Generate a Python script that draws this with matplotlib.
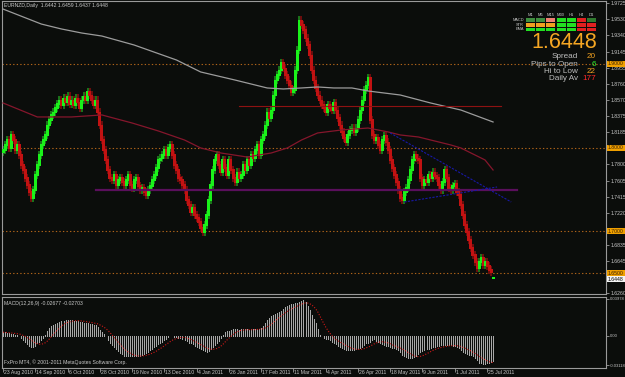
import numpy as np
import pandas as pd
import matplotlib
matplotlib.use("Agg")
import matplotlib.pyplot as plt
from matplotlib.patches import Rectangle

plt.rcParams['font.family'] = ['Liberation Sans', 'DejaVu Sans']

# EURNZD daily closes, 23 Aug 2010 .. end of Jul 2011
close = [
    1.7971, 1.8031, 1.8090, 1.7995, 1.8150, 1.8090, 1.7971, 1.8031, 1.7911, 1.7792,
    1.7732, 1.7637, 1.7553, 1.7470, 1.7398, 1.7494, 1.7673, 1.7792, 1.7911, 1.8031,
    1.8090, 1.8150, 1.8269, 1.8329, 1.8389, 1.8424, 1.8472, 1.8520, 1.8567, 1.8508,
    1.8591, 1.8543, 1.8615, 1.8520, 1.8567, 1.8508, 1.8591, 1.8543, 1.8472, 1.8567,
    1.8615, 1.8567, 1.8663, 1.8627, 1.8567, 1.8508, 1.8567, 1.8424, 1.8269, 1.8090,
    1.7971, 1.7852, 1.7732, 1.7637, 1.7613, 1.7673, 1.7553, 1.7613, 1.7637, 1.7589,
    1.7553, 1.7613, 1.7673, 1.7553, 1.7518, 1.7613, 1.7637, 1.7541, 1.7494, 1.7518,
    1.7470, 1.7434, 1.7494, 1.7541, 1.7613, 1.7673, 1.7756, 1.7852, 1.7875, 1.7911,
    1.7971, 1.7911, 1.7995, 1.8031, 1.7911, 1.7792, 1.7732, 1.7637, 1.7613, 1.7553,
    1.7494, 1.7374, 1.7315, 1.7231, 1.7279, 1.7195, 1.7160, 1.7112, 1.7040, 1.6993,
    1.7076, 1.7195, 1.7374, 1.7553, 1.7732, 1.7852, 1.7911, 1.7792, 1.7708, 1.7852,
    1.7756, 1.7673, 1.7852, 1.7732, 1.7637, 1.7589, 1.7708, 1.7637, 1.7673, 1.7792,
    1.7732, 1.7852, 1.7792, 1.7911, 1.7875, 1.7971, 1.8031, 1.7911, 1.8090, 1.8150,
    1.8269, 1.8424, 1.8353, 1.8448, 1.8627, 1.8806, 1.8866, 1.8925, 1.9009, 1.8949,
    1.8866, 1.8806, 1.8746, 1.8663, 1.8687, 1.8925, 1.9164, 1.9522, 1.9463, 1.9403,
    1.9307, 1.9224, 1.9104, 1.8925, 1.8806, 1.8711, 1.8627, 1.8567, 1.8508, 1.8472,
    1.8424, 1.8508, 1.8472, 1.8448, 1.8532, 1.8448, 1.8353, 1.8269, 1.8186, 1.8114,
    1.8066, 1.8150, 1.8210, 1.8233, 1.8186, 1.8233, 1.8329, 1.8448, 1.8567, 1.8687,
    1.8746, 1.8830, 1.8329, 1.8150, 1.8090, 1.8114, 1.8031, 1.7971, 1.8090, 1.8138,
    1.8066, 1.7971, 1.7852, 1.7756, 1.7673, 1.7589, 1.7494, 1.7398, 1.7374, 1.7470,
    1.7518, 1.7613, 1.7732, 1.7852, 1.7911, 1.7875, 1.7852, 1.7637, 1.7553, 1.7613,
    1.7589, 1.7673, 1.7637, 1.7708, 1.7661, 1.7637, 1.7553, 1.7494, 1.7589, 1.7732,
    1.7637, 1.7518, 1.7494, 1.7541, 1.7565, 1.7470, 1.7434, 1.7315, 1.7195, 1.7076,
    1.6993, 1.6897, 1.6801, 1.6718, 1.6634, 1.6563, 1.6634, 1.6682, 1.6599, 1.6634,
    1.6587, 1.6539, 1.6515, 1.6448,
]
first_open = 1.7950
last_ohlc = (1.6442, 1.6459, 1.6437, 1.6448)

# MACD(12,26,9) main line per bar
macd_main = [
    .004, .004, .003, .003, .002, .002, .001, .001, .000, -.002,
    -.004, -.006, -.009, -.011, -.012, -.012, -.011, -.008, -.006, -.004,
    -.002, .001, .005, .009, .011, .012, .013, .014, .015, .016,
    .016, .017, .017, .017, .017, .016, .016, .016, .015, .015,
    .014, .014, .014, .013, .013, .012, .012, .010, .006, .004,
    .002, .000, -.004, -.008, -.010, -.012, -.014, -.016, -.018, -.019,
    -.021, -.022, -.022, -.022, -.022, -.022, -.022, -.021, -.021, -.020,
    -.019, -.018, -.017, -.015, -.014, -.012, -.011, -.009, -.007, -.006,
    -.004, -.003, -.001, .000, .000, -.001, -.001, -.002, -.002, -.003,
    -.004, -.005, -.007, -.008, -.009, -.011, -.012, -.013, -.014, -.015,
    -.016, -.017, -.016, -.014, -.012, -.010, -.007, -.005, -.002, .001,
    .004, .005, .005, .006, .007, .007, .007, .006, .007, .007,
    .007, .007, .006, .007, .007, .007, .008, .008, .009, .011,
    .014, .017, .019, .021, .023, .024, .025, .026, .027, .029,
    .031, .032, .033, .034, .034, .035, .035, .036, .038, .039,
    .036, .032, .028, .023, .018, .014, .008, .001, .000, -.002,
    -.003, -.003, -.004, -.006, -.008, -.009, -.011, -.012, -.013, -.014,
    -.015, -.015, -.015, -.015, -.015, -.014, -.014, -.013, -.012, -.010,
    -.008, -.007, -.006, -.004, -.003, -.005, -.006, -.008, -.009, -.010,
    -.011, -.011, -.012, -.013, -.013, -.014, -.015, -.017, -.020, -.022,
    -.023, -.024, -.024, -.024, -.023, -.021, -.019, -.017, -.016, -.015,
    -.014, -.014, -.013, -.012, -.012, -.011, -.011, -.010, -.010, -.010,
    -.010, -.010, -.010, -.011, -.011, -.012, -.013, -.015, -.017, -.018,
    -.019, -.020, -.020, -.022, -.024, -.026, -.029, -.029, -.030, -.030,
    -.029, -.029, -.028, -.027,
]
macd_header = (-0.02677, -0.02703)

# moving averages (bar index, value)
slow_ma_bar = [0, 19, 29, 39, 49, 65, 86, 98, 115, 131, 139, 148, 156, 164, 173, 181, 197, 212, 227, 243]
slow_ma = [1.9653, 1.9474, 1.9415, 1.9367, 1.9331, 1.9224, 1.9045, 1.8902, 1.8806, 1.8711,
           1.8699, 1.8711, 1.8723, 1.8711, 1.8711, 1.8675, 1.8627, 1.8532, 1.8448, 1.8305]
mid_ma_bar = [0, 17, 34, 49, 64, 77, 90, 98, 108, 121, 133, 141, 148, 156, 168, 181, 191, 197, 206, 222, 227, 239, 243]
mid_ma = [1.8532, 1.8365, 1.8365, 1.8389, 1.8293, 1.8198, 1.8090, 1.7995, 1.7935, 1.7887, 1.7935, 1.7995,
          1.8090, 1.8174, 1.8210, 1.8233, 1.8186, 1.8150, 1.8126, 1.8031, 1.7995, 1.7852, 1.7732]

round_levels = [1.90, 1.80, 1.70, 1.65]
support_bars, support_level = (46, 255), 1.7494
resist_bars, resist_level = (117, 247), 1.8496
trend_down_bars, trend_down = (192, 252), (1.8174, 1.7350)
trend_up_bars, trend_up = (199, 245), (1.7350, 1.7529)

date_labels = ['23 Aug 2010', '14 Sep 2010', '6 Oct 2010', '28 Oct 2010', '19 Nov 2010',
               '13 Dec 2010', '4 Jan 2011', '26 Jan 2011', '17 Feb 2011', '11 Mar 2011',
               '4 Apr 2011', '26 Apr 2011', '18 May 2011', '9 Jun 2011', '1 Jul 2011', '25 Jul 2011']
# ticks hidden behind the highlighted level boxes are left out
price_ticks = [1.9725, 1.9530, 1.9340, 1.9145, 1.8955, 1.8760, 1.8570, 1.8375, 1.8185,
               1.7800, 1.7605, 1.7415, 1.7220, 1.6835, 1.6645, 1.6260]
macd_ticks = [0.03978, 0.0, -0.03118]
macd_tick_labels = ['0.03978', '0.00', '-0.03118']

tf_names = ['M1', 'M5', 'M15', 'M30', 'H1', 'H4', 'D1']
signal_rows = ['MACD', 'STR', 'EMA']
signal_cells = [['#3f8f3f', '#3f8f3f', '#f08070', '#22e022', '#22e022', '#e02020', '#2f7a2f'],
                ['#f0a020', '#f0a020', '#f0a020', '#22e022', '#22e022', '#e02020', '#e02020'],
                ['#22e022', '#22e022', '#22e022', '#22e022', '#22e022', '#e02020', '#e02020']]
stat_names = ['Spread', 'Pips to Open', 'Hi to Low', 'Daily Av']
stat_values = ['20', '6', '22', '177']
stat_colors = ['#f0a020', '#30f030', '#f0a020', '#ff2a2a']

# ---------------------------------------------------------------
W, H = 625, 377
BG = '#0b0d0b'
AXC = '#9a9a9a'
TXT = '#c8c8c8'
fig = plt.figure(figsize=(W / 100, H / 100), dpi=100, facecolor=BG)


def px_axes(l, t, r, b):
    a = fig.add_axes([l / W, 1 - b / H, (r - l) / W, (b - t) / H])
    a.set_facecolor(BG)
    for s in a.spines.values():
        s.set_color(AXC)
        s.set_linewidth(0.8)
    return a


def ftext(x, y, s, **kw):
    kw.setdefault('va', 'center')
    fig.text(x / W, 1 - y / H, s, **kw)


def frect(x, y, w, h, color):
    fig.add_artist(Rectangle((x / W, 1 - (y + h) / H), w / W, h / H,
                             transform=fig.transFigure, facecolor=color, edgecolor='none'))


ax = px_axes(2, 1, 606, 294)
ax2 = px_axes(2, 297, 606, 368)
n = len(close)
idx = np.arange(n)
xlim = (-0.5, 299)

# candles: 2px dark shadow over the full range, 1px bright body on top
c = np.array(close)
o = np.r_[first_open, c[:-1]]
o[-1] = last_ohlc[0]
wick = 0.0045
hi = np.maximum(o, c) + wick
lo = np.minimum(o, c) - wick
hi[-1], lo[-1] = last_ohlc[1], last_ohlc[2]
up = c >= o
wick_col = [(0.10, 0.45, 0.10) if u else (0.42, 0.05, 0.05) for u in up]
body_col = [(0.10, 0.95, 0.10) if u else (0.76, 0.07, 0.07) for u in up]
ax.vlines(idx, lo, hi, colors=wick_col, lw=1.44, antialiased=False, zorder=2)
ax.vlines(idx - 0.2, np.minimum(o, c), np.maximum(o, c) + 0.0006,
          colors=body_col, lw=0.75, antialiased=False, zorder=3)

for lvl in round_levels:
    ax.axhline(lvl, color='#b0641a', lw=0.8, ls=(0, (1.2, 2)), zorder=1)
ax.plot(slow_ma_bar, slow_ma, color='#9c9c9c', lw=0.9, zorder=4)
ax.plot(mid_ma_bar, mid_ma, color='#85162c', lw=0.9, zorder=4)
ax.plot(support_bars, [support_level] * 2, color='#5a0f5c', lw=1.6, zorder=4)
ax.plot(resist_bars, [resist_level] * 2, color='#8e1212', lw=0.8, zorder=4)
ax.plot(trend_down_bars, trend_down, color='#1818a8', lw=0.8, ls=(0, (2, 1.2)), zorder=5)
ax.plot(trend_up_bars, trend_up, color='#1818a8', lw=0.8, ls=(0, (2, 1.2)), zorder=5)

ax.set_xlim(*xlim)
ax.set_ylim(1.6252, 1.9749)
ax.set_xticks([])
ax.yaxis.tick_right()
ax.set_yticks(price_ticks)
ax.set_yticklabels(['%.4f' % p for p in price_ticks])
ax.tick_params(axis='y', length=2, width=0.6, color=AXC, labelsize=3.7, labelcolor=TXT, pad=1)

# MACD panel
m = pd.Series(macd_main)
signal = m.rolling(9, min_periods=1).mean()
ax2.vlines(idx, 0, m, colors='#a8a8a8', lw=0.72, antialiased=False)
ax2.plot(idx, signal, color='#d01818', lw=0.8, ls=(0, (1, 1.5)))
ax2.set_xlim(*xlim)
ax2.set_ylim(-0.0344, 0.0419)
ax2.yaxis.tick_right()
ax2.set_yticks(macd_ticks)
ax2.set_yticklabels(macd_tick_labels)
ax2.tick_params(axis='y', length=2, width=0.6, color=AXC, labelsize=3.0, labelcolor=TXT, pad=0.8)
ax2.set_xticks(np.arange(len(date_labels)) * 16)
ax2.set_xticklabels([''] * len(date_labels))
ax2.tick_params(axis='x', length=3, width=0.6, color=AXC, direction='out')
for k, lab in enumerate(date_labels):
    ax2.annotate(lab, (k * 16, 0), xycoords=('data', 'axes fraction'), xytext=(1, -4.5),
                 textcoords='offset pixels', fontsize=3.7, color=TXT, va='center', ha='left',
                 annotation_clip=False)

# texts on chart
ftext(4, 5, 'EURNZD,Daily  %.4f %.4f %.4f %.4f' % last_ohlc, fontsize=3.7, color=TXT)
ftext(4, 303, 'MACD(12,26,9) %.5f %.5f' % macd_header, fontsize=3.7, color=TXT)
ftext(4, 362, 'FxPro MT4, \u00a9 2001-2011 MetaQuotes Software Corp.', fontsize=3.7, color=TXT)


# highlighted price labels
def price_y(p):
    return 1 + (1.9749 - p) / (1.9749 - 1.6252) * 293


for lvl in round_levels:
    y = price_y(lvl)
    frect(607, y - 3, 18, 6, '#f0a000')
    ftext(608, y, '%.4f' % lvl, fontsize=3.7, color='#3a2000')
y = price_y(last_ohlc[3]) + 1.5
frect(607, y - 2.8, 18, 5.6, '#f4f4f4')
ftext(608, y, '%.4f' % last_ohlc[3], fontsize=3.7, color='#000000')

# signal table
for j, name in enumerate(tf_names):
    ftext(530.5 + 10.2 * j, 15.3, name, fontsize=3.0, color=TXT, ha='center')
row_y = [18.3, 23.0, 27.7]
row_h = [3.4, 3.6, 3.6]
for r, rname in enumerate(signal_rows):
    ftext(524, row_y[r] + row_h[r] / 2, rname, fontsize=2.8, color=TXT, ha='right')
    for j, col in enumerate(signal_cells[r]):
        frect(526 + 10.2 * j, row_y[r], 9, row_h[r], col)

ftext(531, 42.5, '%.4f' % last_ohlc[3], fontsize=15.5, color='#f5a623')
stat_y = [57, 64.3, 71.6, 79]
for k in range(len(stat_names)):
    ftext(578, stat_y[k], stat_names[k], fontsize=5.9, color='#bdbdbd', ha='right')
    ftext(596, stat_y[k], stat_values[k], fontsize=5.9, color=stat_colors[k], ha='right')

fig.savefig('out.png', dpi=100, facecolor=BG)
